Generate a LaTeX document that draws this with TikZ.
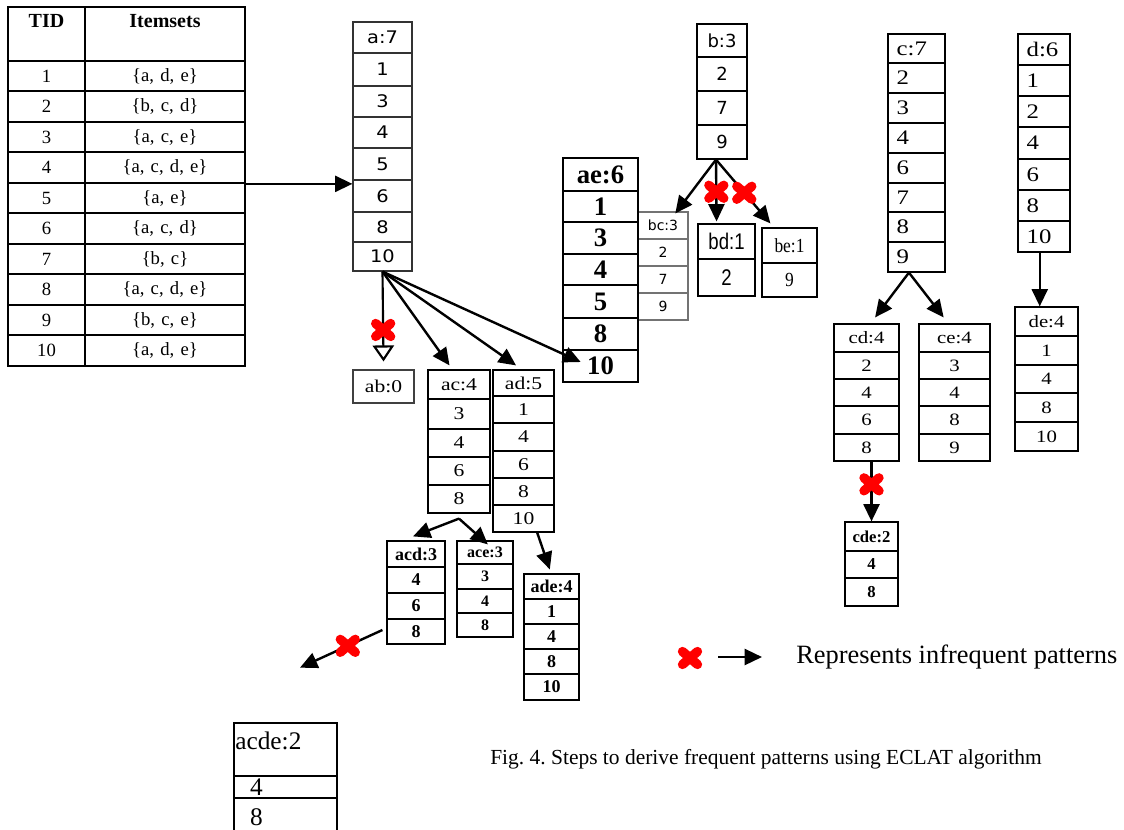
\documentclass[tikz,border=0pt]{standalone}
\usepackage{fontspec}
\setmainfont{Liberation Serif}
\newfontfamily\dsans{DejaVu Sans}
\newfontfamily\dsansw{DejaVu Sans}[FakeStretch=1.12]
\newfontfamily\nsans{Liberation Sans}[FakeStretch=0.82]
\newfontfamily\nserif{Liberation Serif}[FakeStretch=0.87]
\newfontfamily\wserif{Liberation Serif}[FakeStretch=1.2]
\usetikzlibrary{arrows.meta,calc}

% column of cells: name, x-left, width, style, list of ytop/ybottom/text
\newcommand\tcol[5]{%
  \pgfmathsetmacro\tcw{#3*0.75}%
  \foreach \yt/\yb/\ttx [count=\i] in {#5}{%
    \pgfmathsetmacro\tch{(\yb-\yt)*0.75}%
    \node[cell,text width=\tcw pt,minimum height=\tch pt,#4] (#1-\i) at ({#2+#3/2},{(\yt+\yb)/2}) {\ttx};
  }}

\tikzset{
  cell/.style={draw, inner xsep=0pt, inner ysep=0pt, align=center, line width=0.9pt},
  lft/.style={align=left, execute at begin node={\hspace*{#1}}},
  tbl/.style={line width=1.3pt, font=\fontsize{14}{16}\selectfont},
  arr/.style={-{Triangle[length=13pt,width=12pt]}, line width=1.8pt},
  arropen/.style={-{Triangle[open,length=12pt,width=16pt,fill=white]}, line width=1.6pt},
  redx/.pic={\draw[red, line width=7pt, line cap=round, -] (-7.5,-6.5) -- (7.5,6.5) (-7.5,6.5) -- (7.5,-6.5);},
}

\begin{document}
\frenchspacing
\begin{tikzpicture}[x=0.75pt,y=-0.75pt]
\useasboundingbox (0,0) rectangle (1124,829);
\clip (0,0) rectangle (1124,829);
\fill[white] (0,0) rectangle (1124,829);

% ---------- table ----------
\node[cell,tbl,font=\bfseries\fontsize{15}{17}\selectfont,text width=57.75pt,minimum height=40.5pt,text height=10pt,text depth=20.5pt] (tidh) at (46.5,34) {TID};
\node[cell,tbl,font=\bfseries\fontsize{15}{17}\selectfont,text width=120pt,minimum height=40.5pt,text height=10pt,text depth=20.5pt] (itsh) at (165,34) {Itemsets};
\tcol{tid}{8}{77}{tbl}{61/91/1,91/122/2,122/152/3,152/183/4,183/213/5,213/244/6,244/274/7,274/305/8,305/335/9,335/366/10}
\tcol{its}{85}{160}{tbl}{61/91/{\{a, d, e\}},91/122/{\{b, c, d\}},122/152/{\{a, c, e\}},152/183/{\{a, c, d, e\}},183/213/{\{a, e\}},213/244/{\{a, c, d\}},244/274/{\{b, c\}},274/305/{\{a, c, d, e\}},305/335/{\{b, c, e\}},335/366/{\{a, d, e\}}}

% ---------- first level ----------
\tcol{a7}{353}{59}{font=\dsansw\fontsize{13}{15}\selectfont, draw=black!80}{22/53/a:7,53/86/1,86/117/3,117/148/4,148/180/5,180/212/6,212/242/8,242/271/10}
\tcol{b3}{697}{50}{font=\dsans\fontsize{13.5}{16}\selectfont}{24/57/b:3,57/91/2,91/125/7,125/159/9}
\tcol{c7}{888}{57}{lft=6.5pt, font=\wserif\fontsize{15.5}{18}\selectfont}{34/63/c:7,63/93/2,93/123/3,123/153/4,153/183/6,183/212/7,212/242/8,242/272/9}
\tcol{d6}{1018}{52}{lft=6.5pt, font=\wserif\fontsize{15.5}{18}\selectfont}{34/65/d:6,65/96/1,96/127/2,127/159/4,159/190/6,190/221/8,221/252/10}

% ---------- second level ----------
\tcol{bc3}{638}{50}{font=\dsans\fontsize{10.5}{12}\selectfont, draw=black!55, line width=0.8pt}{212/239/bc:3,239/266/2,266/293/7,293/320/9}
\tcol{ae6}{563}{75}{font=\bfseries\fontsize{20}{22}\selectfont, line width=2pt}{158/191/ae:6,191/222/1,222/254/3,254/285/4,285/318/5,318/350/8,350/382/10}
\tcol{bd1}{698}{57}{font=\nsans\fontsize{17}{19}\selectfont}{224/259/bd:1,259/296/2}
\tcol{be1}{762}{55}{font=\nserif\fontsize{15}{17}\selectfont}{228/263/be:1,263/297/9}
\tcol{cd4}{834}{65}{font=\wserif\fontsize{13}{15}\selectfont}{324/352/cd:4,352/379/2,379/406/4,406/434/6,434/461/8}
\tcol{ce4}{919}{71}{font=\wserif\fontsize{13}{15}\selectfont}{324/352/ce:4,352/379/3,379/406/4,406/434/8,434/461/9}
\tcol{de4}{1015}{63}{font=\wserif\fontsize{13}{15}\selectfont}{307/336/de:4,336/365/1,365/393/4,393/422/8,422/451/10}
\tcol{ab0}{353}{61}{font=\wserif\fontsize{13.5}{16}\selectfont, draw=black!75}{370/403/ab:0}
\tcol{ac4}{428}{62}{font=\wserif\fontsize{13.5}{16}\selectfont}{370/399/ac:4,399/429/3,429/457/4,457/485/6,485/513/8}
\tcol{ad5}{493}{61}{font=\wserif\fontsize{13.5}{16}\selectfont}{370/396/ad:5,396/423/1,423/451/4,451/478/6,478/505/8,505/532/10}

% ---------- third level ----------
\tcol{cde2}{845}{53}{font=\bfseries\fontsize{12.5}{15}\selectfont}{522/551/cde:2,551/578/4,578/606/8}
\tcol{acd3}{387}{58}{font=\bfseries\fontsize{13.5}{16}\selectfont}{541/567/acd:3,567/593/4,593/619/6,619/644/8}
\tcol{ace3}{457}{56}{font=\bfseries\fontsize{12}{14}\selectfont}{541/564/ace:3,564/589/3,589/613/4,613/637/8}
\tcol{ade4}{524}{55}{font=\bfseries\fontsize{13.5}{16}\selectfont}{574/599/ade:4,599/624/1,624/649/4,649/674/8,674/700/10}

% ---------- fourth level ----------
\node[cell,line width=2pt,text width=77.25pt,minimum height=39.75pt,align=left,font=\fontsize{19}{21}\selectfont,text height=12pt,text depth=12pt] (acdeh) at (285.5,749.5) {\hspace*{1pt}acde:2};
\tcol{acde}{234}{103}{lft=12pt, line width=2pt, font=\fontsize{19}{21}\selectfont}{776/798/4,798/836/8}

% ---------- connectors ----------
\draw[arr] (its-4.south east) -- (its-4.south east -| a7-6.west);

\coordinate (a7s) at (a7-8.south);
\coordinate (abt) at ($(ab0-1.north)+(0,-8)$);
\coordinate (act) at ($(ac4-1.north west)!0.35!(ac4-1.north east)+(0,-4)$);
\coordinate (adt) at ($(ad5-1.north west)!0.38!(ad5-1.north east)+(0,-4)$);
\coordinate (aet) at ($(ae6-7.west)+(19,-4)$);
\draw[arropen] (a7s) -- (abt);
\draw[arr] (a7s) -- (act);
\draw[arr] (a7s) -- (adt);
\draw[arr] (a7s) -- (aet);

\coordinate (b3s) at ($(b3-4.south)+(-6,0)$);
\coordinate (bct) at ($(bc3-1.north west)!0.74!(bc3-1.north east)+(0,2)$);
\coordinate (bdt) at ($(bd1-1.north west)!0.33!(bd1-1.north east)+(0,-2)$);
\coordinate (bet) at ($(be1-1.north west)!0.16!(be1-1.north east)+(0,-4)$);
\draw[arr] (b3s) -- (bct);
\draw[arr] (b3s) -- (bdt);
\draw[arr] (b3s) -- (bet);

\coordinate (c7s) at ($(c7-8.south west)!0.37!(c7-8.south east)$);
\coordinate (cdt) at ($(cd4-1.north west)!0.63!(cd4-1.north east)+(0,-6)$);
\coordinate (cet) at ($(ce4-1.north west)!0.35!(ce4-1.north east)+(0,-6)$);
\draw[arr] (c7s) -- (cdt);
\draw[arr] (c7s) -- (cet);

\coordinate (d6s) at ($(d6-7.south west)!0.42!(d6-7.south east)$);
\draw[arr] (d6s) -- (d6s |- de4-1.north);

\coordinate (cds) at (cd4-5.south -| cde2-1.north);
\draw[arr] (cds) -- (cde2-1.north);

\coordinate (ac4s) at ($(ac4-5.south)+(0,5)$);
\coordinate (acdt) at ($(acd3-1.north west)!0.45!(acd3-1.north east)+(0,-4)$);
\coordinate (acet) at ($(ace3-1.north west)!0.55!(ace3-1.north east)+(0,4)$);
\draw[arr] (ac4s) -- (acdt);
\draw[arr] (ac4s) -- (acet);

\coordinate (ad5s) at ($(ad5-6.south west)!0.72!(ad5-6.south east)$);
\coordinate (adet) at ($(ade4-1.north west)!0.47!(ade4-1.north east)+(0,-4)$);
\draw[arr] (ad5s) -- (adet);

\coordinate (acds) at ($(acd3-4.west)+(-4,-1.5)$);
\coordinate (acdend) at ($(acdeh.north)+(14.5,-54)$);
\draw[arr] (acds) -- (acdend);

% ---------- red crosses ----------
\pic at ($(a7s)!0.65!(abt)$) {redx};
\pic at ($(b3s)!0.52!(bdt)$) {redx};
\pic at ($(b3s)!0.52!(bet)$) {redx};
\pic at ($(cds)!0.38!(cde2-1.north)$) {redx};
\pic at ($(acds)!0.42!(acdend)$) {redx};

% ---------- legend and caption ----------
\node[anchor=west, inner sep=0pt, font=\fontsize{19.8}{22}\selectfont] (legtext) at (796,657) {Represents infrequent patterns};
\coordinate (legs) at ($(legtext.west)+(-78,0)$);
\coordinate (lege) at ($(legtext.west)+(-34,0)$);
\draw[arr] (legs) -- (lege);
\pic at ($(legtext.west)+(-106,1)$) {redx};

\node[anchor=west, inner sep=0pt, font=\fontsize{16.1}{18}\selectfont] (caption) at (490,759) {Fig. 4. Steps to derive frequent patterns using ECLAT algorithm};
\end{tikzpicture}
\end{document}
